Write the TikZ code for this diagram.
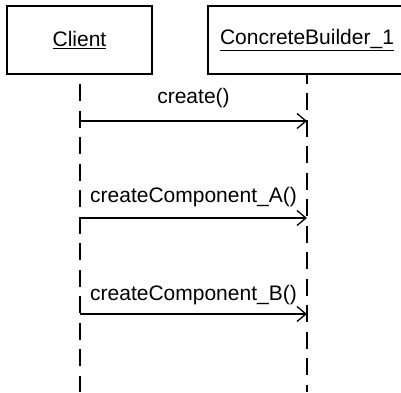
\documentclass[tikz,border=0pt]{standalone}
\usepackage{fontspec}
\setmainfont{Liberation Sans}
\usetikzlibrary{arrows.meta}
\begin{document}
\begin{tikzpicture}[
  x=1pt, y=1pt,
  every node/.style={font=\fontsize{21}{25}\selectfont},
  objbox/.style={draw, line width=1.5pt, minimum height=68pt, inner sep=0pt},
  lifeline/.style={line width=1.5pt, dash pattern=on 17pt off 9.5pt},
  msg/.style={line width=1.3pt, -{Straight Barb[length=9pt, width=15pt, line width=1.3pt]}},
  msglabel/.style={midway, anchor=base, inner sep=0pt}
]
\useasboundingbox (0,0) rectangle (401,-392);
\clip (0,0) rectangle (401,-392);
\node[objbox, minimum width=145pt] (client) at (79.5,-40) {\underline{Client}};
\node[objbox, minimum width=198pt] (builder) at (307,-40) {\underline{ConcreteBuilder\_1}};
\coordinate (clientend) at (80,-392);
\coordinate (builderend) at (307,-392);
\draw[lifeline, dash phase=17pt] (client.south -| clientend) -- (clientend);
\draw[lifeline, dash phase=8pt] (builder.south) -- (builderend);
\coordinate (m1s) at (80,-121);
\coordinate (m1e) at (307,-121);
\coordinate (m2s) at (80,-218);
\coordinate (m2e) at (307,-218);
\coordinate (m3s) at (80,-314);
\coordinate (m3e) at (307,-314);
\draw[msg] (m1s) -- node[msglabel, yshift=18pt] {create()} (m1e);
\draw[msg] (m2s) -- node[msglabel, yshift=16pt] {createComponent\_A()} (m2e);
\draw[msg] (m3s) -- node[msglabel, yshift=14pt] {createComponent\_B()} (m3e);
\end{tikzpicture}
\end{document}
